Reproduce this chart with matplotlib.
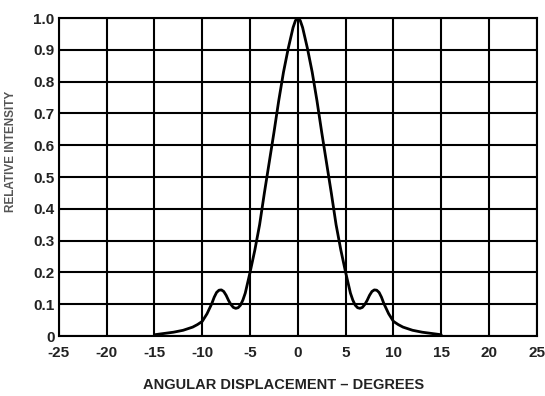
import matplotlib
matplotlib.use("Agg")
import matplotlib.pyplot as plt
from matplotlib import font_manager

# Angular response of relative intensity
angle_deg = [-15, -14, -13, -12, -11, -10.5, -10, -9.5, -9, -8.75, -8.5, -8.25,
             -8, -7.75, -7.5, -7.25, -7, -6.75, -6.5, -6.25, -6, -5.75, -5.5,
             -5, -4.5, -4, -3.5, -3, -2.5, -2, -1.5, -1, -0.5, -0.25,
             0,
             0.25, 0.5, 1, 1.5, 2, 2.5, 3, 3.5, 4, 4.5, 5, 5.5, 5.75, 6, 6.25,
             6.5, 6.75, 7, 7.25, 7.5, 7.75, 8, 8.25, 8.5, 8.75, 9, 9.5, 10,
             10.5, 11, 12, 13, 14, 15]
rel_intensity = [0.004, 0.008, 0.012, 0.018, 0.028, 0.036, 0.046, 0.07, 0.102,
                 0.122, 0.137, 0.144, 0.145, 0.14, 0.128, 0.112, 0.099, 0.09,
                 0.087, 0.089, 0.097, 0.113, 0.135, 0.2, 0.27,
                 0.35, 0.45, 0.545, 0.64, 0.74, 0.83, 0.905, 0.97, 0.992,
                 1.0,
                 0.992, 0.97, 0.905, 0.83, 0.74, 0.64, 0.545, 0.45, 0.35, 0.27,
                 0.2, 0.135, 0.113, 0.097, 0.089, 0.087, 0.09, 0.099, 0.112,
                 0.128, 0.14, 0.145, 0.144, 0.137, 0.122, 0.102, 0.07, 0.046,
                 0.036, 0.028, 0.018, 0.012, 0.008, 0.004]

x_ticks = [-25, -20, -15, -10, -5, 0, 5, 10, 15, 20, 25]
y_ticks = [0, 0.1, 0.2, 0.3, 0.4, 0.5, 0.6, 0.7, 0.8, 0.9, 1.0]
y_tick_labels = ["0", "0.1", "0.2", "0.3", "0.4", "0.5", "0.6", "0.7", "0.8", "0.9", "1.0"]

names = {f.name for f in font_manager.fontManager.ttflist}
narrow = "Liberation Sans Narrow" if "Liberation Sans Narrow" in names else "Liberation Sans"
plt.rcParams["font.family"] = [narrow, "DejaVu Sans"]

fig = plt.figure(figsize=(5.45, 3.96), dpi=100)
ax = fig.add_axes([0.108, 0.1515, 0.877, 0.803])

ax.plot(angle_deg, rel_intensity, color="black", lw=2.0,
        solid_joinstyle="round", solid_capstyle="round", zorder=3)

ax.set_xlim(-25, 25)
ax.set_ylim(0, 1.0)
ax.set_xticks(x_ticks)
ax.set_xticklabels([str(t) for t in x_ticks])
ax.set_yticks(y_ticks)
ax.set_yticklabels(y_tick_labels)
ax.grid(True, color="black", lw=1.5, zorder=1)
ax.set_axisbelow(True)
for s in ax.spines.values():
    s.set_linewidth(1.5)
    s.set_color("black")
ax.tick_params(axis="y", length=0, labelsize=11, pad=3)
ax.tick_params(axis="x", length=0, labelsize=11, pad=7)
for lbl in ax.get_xticklabels() + ax.get_yticklabels():
    lbl.set_fontweight("bold")
    lbl.set_color("#222222")

ax.set_xlabel("ANGULAR DISPLACEMENT – DEGREES", fontsize=10.5,
              fontweight="bold", color="#222222", va="center")
ax.xaxis.set_label_coords(0.47, -0.155)
ax.set_ylabel("RELATIVE INTENSITY", fontsize=8.5, fontweight="bold",
              color="#555555")
ax.yaxis.set_label_coords(-0.088, 0.58)

fig.savefig("out.png", dpi=100)
